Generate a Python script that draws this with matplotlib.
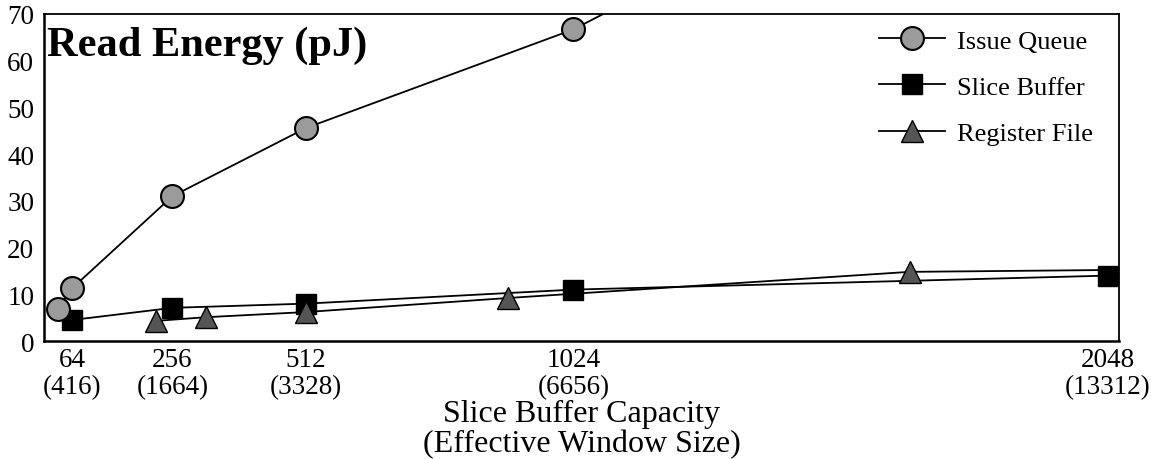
import matplotlib
matplotlib.use("Agg")
import matplotlib.pyplot as plt

plt.rcParams['font.family'] = ['Liberation Serif', 'DejaVu Serif']

# Data
xticks = [64, 256, 512, 1024, 2048]
xticklabels = ["64\n(416)", "256\n(1664)", "512\n(3328)", "1024\n(6656)", "2048\n(13312)"]

iq_x = [36, 64, 256, 512, 1024, 2048]
iq_y = [6.9, 11.3, 31.0, 45.6, 66.7, 126.0]

sb_x = [64, 256, 512, 1024, 2048]
sb_y = [4.5, 7.1, 8.0, 11.0, 14.0]

rf_x = [224, 321, 512, 898, 1668, 2048]
rf_y = [4.3, 5.1, 6.2, 9.2, 14.8, 15.2]

fig = plt.figure(figsize=(11.63, 4.60), dpi=100)
ax = fig.add_axes([44/1163, 1-342/460, (1119-44)/1163, (342-15)/460])

lw = 1.3
ax.plot(sb_x, sb_y, color='black', lw=lw, marker='s', ms=14.5,
        mfc='black', mec='black', mew=1.0, label='Slice Buffer', zorder=3)
ax.plot(iq_x, iq_y, color='black', lw=lw, marker='o', ms=16.5,
        mfc='#9b9b9b', mec='black', mew=1.5, label='Issue Queue', zorder=4)
ax.plot(rf_x, rf_y, color='black', lw=lw, marker='^', ms=16,
        mfc='#555555', mec='black', mew=1.0, label='Register File', zorder=4,
        markevery=list(range(len(rf_x) - 1)))

ax.set_xlim(10, 2069)
ax.set_ylim(0, 70)
ax.set_yticks(range(0, 71, 10))
ax.set_xticks(xticks)
ax.set_xticklabels(xticklabels, fontsize=19.5, linespacing=1.15)
ax.tick_params(axis='y', labelsize=19.5, length=0, pad=7)
ax.tick_params(axis='x', length=0, pad=4)

for s in ['left', 'bottom']:
    ax.spines[s].set_linewidth(1.8)
for s in ['top', 'right']:
    ax.spines[s].set_linewidth(1.3)

ax.set_xlabel("Slice Buffer Capacity\n(Effective Window Size)", fontsize=23,
              linespacing=1.0, labelpad=0)

ax.text(0.003, 0.965, "Read Energy (pJ)", transform=ax.transAxes,
        fontsize=30.5, fontweight='bold', ha='left', va='top')

handles, labels = ax.get_legend_handles_labels()
order = [1, 0, 2]
leg = ax.legend([handles[i] for i in order], [labels[i] for i in order],
                loc='upper left', bbox_to_anchor=((879-44)/1075, 0.954),
                frameon=False, fontsize=19, handlelength=2.5, handletextpad=0.45,
                labelspacing=0.86, borderpad=0, borderaxespad=0)

fig.savefig("out.png", dpi=100)
